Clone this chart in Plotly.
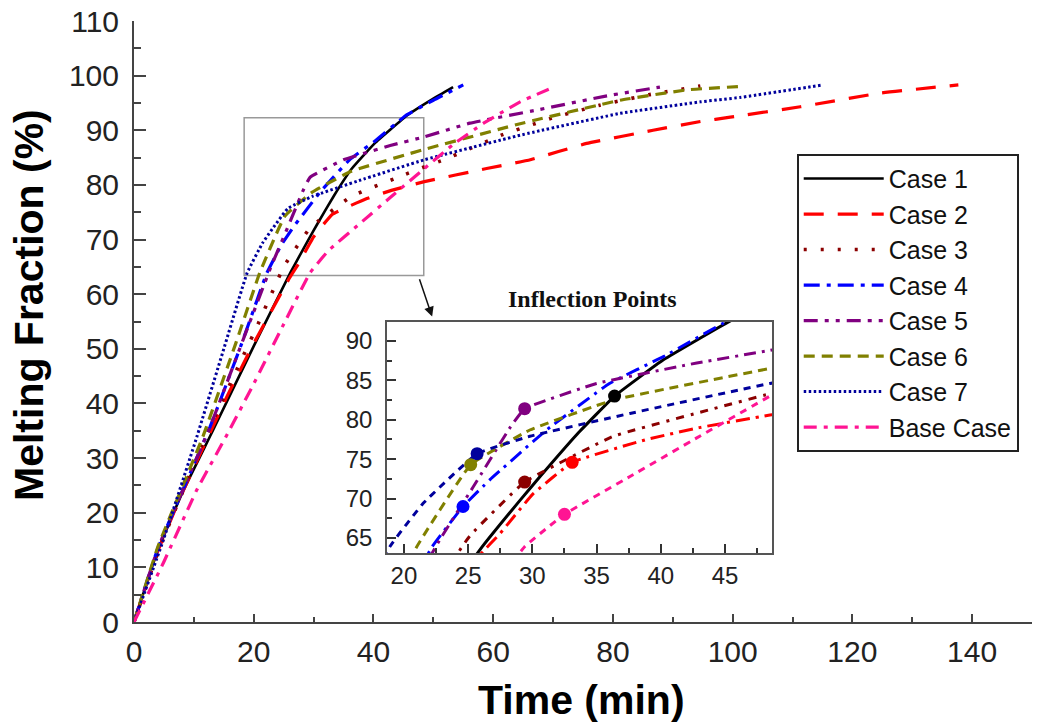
import plotly.graph_objects as go

# ---------------- data ----------------
names = ["Case 1", "Case 2", "Case 3", "Case 4", "Case 5", "Case 6", "Case 7", "Base Case"]

case1_t = [0, 3.8, 8, 13.2, 20, 26.1, 29.1, 30.6, 33.5, 36.4, 40.2, 45.6, 50, 53.3]
case1_y = [0, 12.6, 23.5, 35.1, 50.5, 63.9, 69.9, 72.8, 78.2, 83.0, 87.6, 92.7, 95.8, 97.9]

case2_t = [0, 3.8, 8, 15.5, 20, 26, 27.5, 30, 33.1, 38.9, 43, 48.5, 58.9, 66.2, 75.6, 86.7, 94.6, 99.6, 111.3, 124.6, 137.7]
case2_y = [0, 12.5, 23.5, 41.2, 51, 63, 65.6, 70.5, 74.6, 77.5, 79, 80.6, 83.0, 84.6, 87.6, 90.0, 91.6, 92.4, 94.3, 96.8, 98.3]

case3_t = [0, 4, 12, 20.5, 25.1, 29.4, 36.3, 44.1, 48.5, 52, 61.6, 70, 77.8, 86, 94.6]
case3_y = [0, 12.8, 34, 54, 65.2, 72.1, 77.9, 81.4, 83.3, 84.7, 89.2, 92.3, 94.6, 96.5, 98.1]

case4_t = [0, 4, 12.7, 18, 22.2, 24.6, 26.7, 31.1, 36.0, 40.2, 45.4, 50, 55]
case4_y = [0, 13.5, 35.7, 51, 63.9, 69.0, 72.4, 78.7, 84.6, 88.0, 92.7, 95.5, 98.3]

case5_t = [0, 4, 12.7, 18, 22.8, 25.4, 28.3, 29.4, 35.0, 42.8, 48.5, 56.1, 67.3, 79, 86.7, 88.5]
case5_y = [0, 13.5, 35.7, 51, 64.8, 71.5, 79.1, 81.4, 84.6, 87.2, 88.8, 91.3, 93.7, 96.3, 97.7, 98.0]

case6_t = [0, 4, 11.5, 17, 21.0, 25.2, 29.8, 36.3, 48.5, 64.5, 81.2, 92.4, 101]
case6_y = [0, 13.8, 33.9, 51, 63.9, 74.3, 78.7, 82.5, 86.5, 91.2, 95.5, 97.4, 98.0]

case7_t = [0, 4.9, 10.5, 15, 18.9, 21.5, 25.7, 29.8, 37.6, 48.5, 64.5, 81.2, 94.6, 101.2, 115.1]
case7_y = [0, 15.0, 33.9, 50, 63.9, 69.4, 75.7, 77.9, 80.8, 84.6, 89.1, 93.1, 95.2, 96.0, 98.3]

base_t = [0, 4.9, 10.5, 15.6, 20, 25, 29.4, 32.5, 37.6, 42.8, 48.5, 53.3, 58.4, 64.5, 70.3]
base_y = [0, 10.8, 24.2, 34.4, 43.6, 54.5, 63.9, 68.0, 72.8, 77.7, 83.0, 87.4, 91.3, 95.2, 98.0]

# inflection points shown in the inset
infl_t = [36.4, 33.1, 29.4, 24.6, 29.4, 25.2, 25.7, 32.5]
infl_y = [83.0, 74.6, 72.1, 69.0, 81.4, 74.3, 75.7, 68.0]

series_t = [case1_t, case2_t, case3_t, case4_t, case5_t, case6_t, case7_t, base_t]
series_y = [case1_y, case2_y, case3_y, case4_y, case5_y, case6_y, case7_y, base_y]

# ---------------- styles ----------------
colors = ["#000000", "#FF0000", "#8B0000", "#0000FF", "#800080", "#808000", "#00009C", "#FF1493"]
dashes = ["solid", "20px,14px", "3px,14px", "16px,7px,4px,7px", "14px,7px,4px,7px,4px,7px",
          "11px,7px", "2.5px,2.5px", "13px,7px,4px,7px"]
widths = [2.6, 3.2, 3.6, 3.2, 3.2, 3.2, 3.0, 3.2]
inset_dashes = ["solid", "14px,6px,3px,6px", "8px,7px,3px,7px", "14px,6px,3px,6px",
                "12px,6px,3px,6px", "9px,6px", "7px,6px", "7px,6px"]

fig = go.Figure()

for i, nm in enumerate(names):
    fig.add_trace(go.Scatter(
        x=series_t[i], y=series_y[i], mode="lines", name=nm,
        line=dict(color=colors[i], width=widths[i], dash=dashes[i], shape="spline", smoothing=0.3),
        xaxis="x", yaxis="y"))

for i, nm in enumerate(names):
    fig.add_trace(go.Scatter(
        x=series_t[i], y=series_y[i], mode="lines", showlegend=False,
        line=dict(color=colors[i], width=3, dash=inset_dashes[i], shape="spline", smoothing=0.3),
        xaxis="x2", yaxis="y2", cliponaxis=True))

fig.add_trace(go.Scatter(
    x=infl_t, y=infl_y, mode="markers", showlegend=False,
    marker=dict(color=colors, size=13, line=dict(width=0)),
    xaxis="x2", yaxis="y2"))

tickfont = dict(family="Liberation Sans, Arial", size=30, color="#222222")
titlefont = dict(family="Liberation Sans, Arial", size=41, color="#000000")
insetfont = dict(family="Liberation Sans, Arial", size=24, color="#222222")

PW, PH, L, B = 898, 601, 134, 622  # plot area in pixels


def px(x):
    return (x - L) / PW


def py(y):
    return (B - y) / PH


fig.update_layout(
    width=1053, height=725,
    margin=dict(l=134, r=21, t=21, b=103, autoexpand=False),
    paper_bgcolor="white", plot_bgcolor="white",
    xaxis=dict(
        range=[0, 150], domain=[0, 1], showline=True, linecolor="#444444", linewidth=2,
        ticks="inside", ticklen=8, tickwidth=1.5, tickcolor="#444444", dtick=20, tick0=0,
        minor=dict(ticks="inside", ticklen=5, dtick=10, tickcolor="#444444", tickwidth=1.5),
        showgrid=False, zeroline=False, tickfont=tickfont, ticklabelstandoff=2,
        automargin=False,
    ),
    yaxis=dict(
        range=[0, 110], domain=[0, 1], showline=True, linecolor="#444444", linewidth=2,
        ticks="inside", ticklen=12, tickwidth=1.5, tickcolor="#444444", dtick=10, tick0=0,
        minor=dict(ticks="inside", ticklen=7, dtick=5, tickcolor="#444444", tickwidth=1.5),
        showgrid=False, zeroline=False, tickfont=tickfont, ticklabelstandoff=7,
        automargin=False,
    ),
    xaxis2=dict(
        range=[18.68, 48.66], domain=[0.2817, 0.7105], anchor="y2",
        showline=True, mirror=True, linecolor="#555555", linewidth=1.5,
        ticks="inside", ticklen=9, tickwidth=1.5, tickcolor="#333333", dtick=5, tick0=0,
        minor=dict(ticks="inside", ticklen=5, dtick=2.5, tickcolor="#333333", tickwidth=1.5),
        showgrid=False, zeroline=False, tickfont=insetfont, automargin=False,
    ),
    yaxis2=dict(
        range=[63.1, 92.4], domain=[0.1148, 0.4992], anchor="x2",
        showline=True, mirror=True, linecolor="#555555", linewidth=1.5,
        ticks="inside", ticklen=9, tickwidth=1.5, tickcolor="#333333", dtick=5, tick0=0,
        minor=dict(ticks="inside", ticklen=5, dtick=2.5, tickcolor="#333333", tickwidth=1.5),
        showgrid=False, zeroline=False, tickfont=insetfont, ticklabelstandoff=8,
        automargin=False,
    ),
    legend=dict(
        x=0.738, y=0.779, xanchor="left", yanchor="top",
        bgcolor="white", bordercolor="#222222", borderwidth=2,
        font=dict(family="Liberation Sans, Arial", size=25, color="#111111"),
        itemwidth=80, traceorder="normal",
    ),
    showlegend=True,
)

# axis titles as positioned text
fig.add_annotation(xref="paper", yref="paper", x=px(581), y=py(700),
                   text="<b>Time (min)</b>", showarrow=False, font=titlefont,
                   xanchor="center", yanchor="middle")
fig.add_annotation(xref="paper", yref="paper", x=px(29), y=py(305),
                   text="<b>Melting Fraction (%)</b>", showarrow=False, font=titlefont,
                   textangle=-90, xanchor="center", yanchor="middle")

# zoom rectangle in the main plot
fig.add_shape(type="rect", xref="x", yref="y", x0=18.4, x1=48.4, y0=63.4, y1=92.3,
              line=dict(color="#999999", width=1.5), layer="below")

# arrow from rectangle to inset
fig.add_annotation(xref="x", yref="y", axref="x", ayref="y",
                   x=49.8, y=55.9, ax=47.6, ay=63.0, text="", showarrow=True,
                   arrowhead=2, arrowsize=1.3, arrowwidth=1.5, arrowcolor="#111111")

# inset title
fig.add_annotation(xref="paper", yref="paper", x=px(592), y=py(299),
                   text="<b>Inflection Points</b>", showarrow=False,
                   font=dict(family="Liberation Serif, Times New Roman", size=24, color="#111111"))

fig.write_html("out.html")
